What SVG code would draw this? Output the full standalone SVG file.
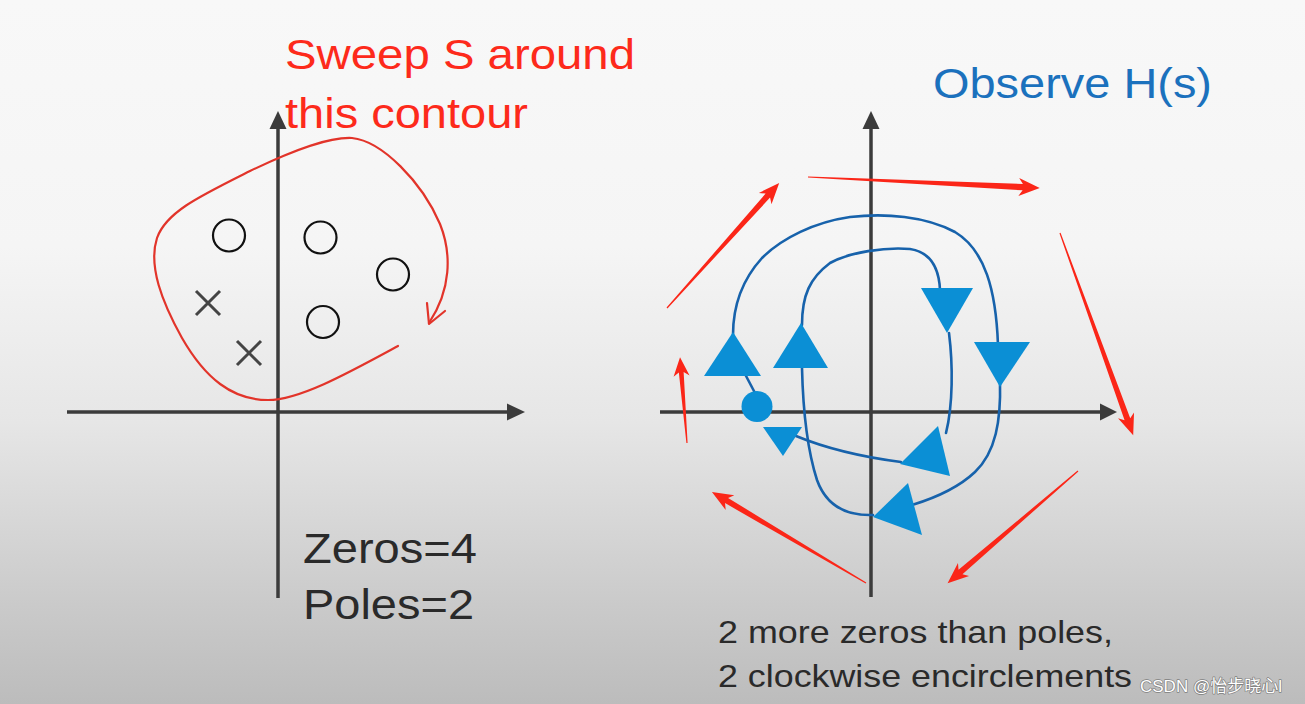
<svg xmlns="http://www.w3.org/2000/svg" width="1305" height="704" viewBox="0 0 1305 704">
<defs>
<linearGradient id="bg" x1="0" y1="0" x2="0" y2="1">
<stop offset="0" stop-color="#f8f8f8"/>
<stop offset="0.35" stop-color="#f5f5f5"/>
<stop offset="0.6" stop-color="#e6e6e6"/>
<stop offset="0.85" stop-color="#cbcbcb"/>
<stop offset="1" stop-color="#bcbcbc"/>
</linearGradient>
<style>
.axis{stroke:#3b3b3b;stroke-width:3.5;fill:none}
.axh{fill:#3b3b3b}
.zero{fill:none;stroke:#111;stroke-width:2.2}
.pole{stroke:#444;stroke-width:3;fill:none}
.contour{fill:none;stroke:#e2342a;stroke-width:2.2;stroke-linecap:round;stroke-linejoin:round}
.red{font-family:"Liberation Sans",Arial,sans-serif;font-size:42px;fill:#fd2a1b}
.blue{font-family:"Liberation Sans",Arial,sans-serif;font-size:42px;fill:#1b71bd}
.dark{font-family:"Liberation Sans",Arial,sans-serif;font-size:42px;fill:#2a2a2a}
.note{font-family:"Liberation Sans",Arial,sans-serif;font-size:32px;fill:#2a2a2a}
.curve{fill:none;stroke:#1762ab;stroke-width:2.6;stroke-linecap:round}
.tri{fill:#0b8fd5}
.rarrow{fill:#fb2618}
.wm{font-family:"Liberation Sans","Noto Sans CJK SC",sans-serif;font-size:17px;fill:#ffffff;stroke:#7d7d7d;stroke-width:1.4;paint-order:stroke;stroke-linejoin:round}
</style>
</defs>
<rect x="0" y="0" width="1305" height="704" fill="url(#bg)"/>

<g id="left-axes">
<line class="axis" x1="67" y1="412" x2="510" y2="412"/>
<polygon class="axh" points="525,412 507,403.5 507,420.5"/>
<line class="axis" x1="278" y1="598" x2="278" y2="126"/>
<polygon class="axh" points="278,111 269.5,129 286.5,129"/>
</g>

<g id="zeros-left">
<circle class="zero" cx="229" cy="235.5" r="16"/>
<circle class="zero" cx="320.5" cy="237.5" r="16"/>
<circle class="zero" cx="393" cy="274.5" r="16"/>
<circle class="zero" cx="323" cy="322" r="16"/>
</g>

<g id="poles-left">
<path class="pole" d="M196,291 L220,315 M220,291 L196,315"/>
<path class="pole" d="M237,341 L261,365 M261,341 L237,365"/>
</g>

<g id="contour">
<path class="contour" d="M398,346 C350,372 300,400 268,400 C232,400 205,378 182,338 C162,302 148,266 157,238 C166,212 200,196 250,171 C298,148 330,137 352,138 C382,141 422,182 440,224 C452,254 451,290 429,323"/>
<path class="contour" d="M427,303 L429,324 L445,311"/>
</g>

<g id="title-left">
<text class="red" x="285" y="69" textLength="350" lengthAdjust="spacingAndGlyphs">Sweep S around</text>
<text class="red" x="285" y="128" textLength="243" lengthAdjust="spacingAndGlyphs">this contour</text>
</g>

<g id="counts">
<text class="dark" x="303" y="563" textLength="174" lengthAdjust="spacingAndGlyphs">Zeros=4</text>
<text class="dark" x="303" y="619" textLength="171" lengthAdjust="spacingAndGlyphs">Poles=2</text>
</g>

<g id="right-axes">
<line class="axis" x1="660" y1="412" x2="1102" y2="412"/>
<polygon class="axh" points="1117,412 1100,403.5 1100,420.5"/>
<line class="axis" x1="871" y1="597" x2="871" y2="126"/>
<polygon class="axh" points="871,111 862.5,129 879.5,129"/>
</g>

<g id="title-right">
<text class="blue" x="933" y="98" textLength="279" lengthAdjust="spacingAndGlyphs">Observe H(s)</text>
</g>

<g id="connectors">
<g id="nyquist-curve">
<path class="curve" d="M755,393 L745,374"/>
<path class="curve" d="M733,335 C733,305 742,280 762,258 C782,238 815,222 850,217 C885,213 925,216 955,232 C985,250 996,290 998,345"/>
<path class="curve" d="M1000,382 C1001,420 996,452 975,472 C958,488 935,498 912,505"/>
<path class="curve" d="M873,515 C845,516 826,505 817,480 C808,452 803,410 802,368"/>
<path class="curve" d="M802,325 C802,295 810,278 830,263 C850,252 885,247 910,249 C930,252 939,268 940,290"/>
<path class="curve" d="M949,333 C953,365 953,405 946,433"/>
<path class="curve" d="M901,462 C870,458 830,450 796,436"/>
</g>
<g id="red-arrows">
<path class="rarrow" transform="translate(667,308) rotate(-48.1)" d="M0,-0.6 L151,-3 L147,-8.5 L168,0 L147,8.5 L151,3 L0,0.6Z"/>
<path class="rarrow" transform="translate(808,177) rotate(2.7)" d="M0,-0.6 L215,-3.2 L211,-9 L232,0 L211,9 L215,3.2 L0,0.6Z"/>
<path class="rarrow" transform="translate(1060,233) rotate(70.1)" d="M0,-0.6 L198,-3 L194,-8.5 L215,0 L194,8.5 L198,3 L0,0.6Z"/>
<path class="rarrow" transform="translate(1078,471) rotate(139.3)" d="M0,-0.6 L155,-3 L151,-8.5 L172,0 L151,8.5 L155,3 L0,0.6Z"/>
<path class="rarrow" transform="translate(866,583) rotate(-149.4)" d="M0,-0.6 L162,-3 L158,-8.5 L179,0 L158,8.5 L162,3 L0,0.6Z"/>
<path class="rarrow" transform="translate(687,443) rotate(-94.65)" d="M0,-0.6 L71,-2.4 L67,-8 L86,0 L67,8 L71,2.4 L0,0.6Z"/>
</g>
</g>

<g id="start-point">
<circle class="tri" cx="757" cy="406.5" r="15.5"/>
</g>
<g id="direction-markers">
<polygon class="tri" points="733,332 704,376 761,376"/>
<polygon class="tri" points="801,323 773,368 828,368"/>
<polygon class="tri" points="921,288 973,288 947,333"/>
<polygon class="tri" points="974,342 1030,342 1000,387"/>
<polygon class="tri" points="938,426 950,476 900,464"/>
<polygon class="tri" points="908,483 922,535 873,517"/>
<polygon class="tri" points="763,427 802,427 783,456"/>
</g>

<g id="conclusion">
<text class="note" x="718" y="643" textLength="395" lengthAdjust="spacingAndGlyphs">2 more zeros than poles,</text>
<text class="note" x="718" y="687" textLength="414" lengthAdjust="spacingAndGlyphs">2 clockwise encirclements</text>
</g>

<g id="watermark">
<text class="wm" x="1140" y="692">CSDN @怡步晓心l</text>
</g>
</svg>
